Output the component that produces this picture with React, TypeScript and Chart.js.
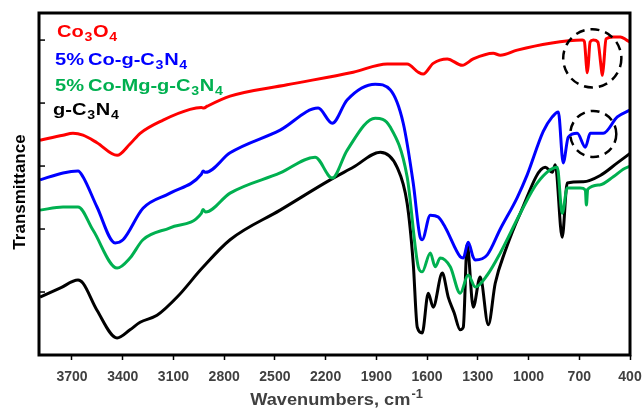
import React, { useEffect, useRef } from "react";
import { Chart, registerables } from "chart.js";

Chart.register(...registerables);

const FONT = '"Liberation Sans", Arial, Helvetica, sans-serif';

// Axis settings / tick labels
const xTickValues = [3700, 3400, 3100, 2800, 2500, 2200, 1900, 1600, 1300, 1000, 700, 400];
const yTickValues = [0, 1, 2, 3, 4, 5];
const xMin = 400;
const xMax = 3895;
const yMin = 0;
const yMax = 5.43;

const xTitle = "Wavenumbers, cm";
const xTitleSup = "-1";
const yTitle = "Transmittance";

// Series names ("_n" = subscript) and colours
const seriesNames = ["Co_3O_4", "5%\u2009Co-g-C_3N_4", "5%\u2009Co-Mg-g-C_3N_4", "g-C_3N_4"];
const seriesColors = ["#ff0000", "#0000ff", "#00b050", "#000000"];

// Co3O4
const wnRed = [3889, 3753, 3694, 3635, 3552, 3433, 3357, 3297, 3161, 3002, 2935, 2920, 2900, 2765, 2428, 2037, 1836, 1718, 1652, 1623, 1564, 1481, 1392, 1327, 1209, 1167, 1067, 871, 682, 670, 658, 653, 647, 636, 617, 590, 572, 564, 556, 542, 500, 457, 420, 400];
const tRed = [3.41, 3.49, 3.52, 3.49, 3.37, 3.17, 3.35, 3.52, 3.73, 3.90, 3.93, 3.92, 3.95, 4.11, 4.29, 4.49, 4.62, 4.62, 4.49, 4.46, 4.63, 4.70, 4.60, 4.70, 4.79, 4.76, 4.84, 4.95, 5.00, 4.98, 4.60, 4.48, 4.60, 4.97, 5.00, 4.97, 4.60, 4.44, 4.60, 5.02, 5.05, 5.05, 5.0, 4.97];

// 5% Co-g-C3N4
const wnBlue = [3889, 3753, 3664, 3635, 3552, 3445, 3398, 3280, 3120, 2935, 2925, 2910, 2765, 2469, 2244, 2161, 2073, 1907, 1818, 1741, 1682, 1641, 1629, 1581, 1534, 1493, 1404, 1386, 1357, 1327, 1315, 1244, 1167, 1067, 1008, 913, 860, 824, 795, 765, 712, 664, 635, 558, 475, 400];
const tBlue = [2.78, 2.89, 2.92, 2.83, 2.35, 1.78, 1.83, 2.33, 2.57, 2.87, 2.92, 2.90, 3.21, 3.57, 3.92, 3.68, 4.05, 4.30, 4.21, 3.68, 2.73, 1.87, 1.83, 2.22, 2.19, 2.03, 1.56, 1.54, 1.79, 1.55, 1.51, 1.59, 2.00, 2.50, 2.86, 3.55, 3.78, 3.86, 3.05, 3.46, 3.52, 3.30, 3.52, 3.52, 3.78, 3.89];

// 5% Co-Mg-g-C3N4
const wnGreen = [3889, 3753, 3664, 3575, 3433, 3357, 3280, 3120, 2935, 2925, 2910, 2765, 2469, 2262, 2161, 2073, 1907, 1818, 1718, 1652, 1629, 1581, 1552, 1522, 1463, 1404, 1357, 1315, 1244, 1167, 1049, 949, 830, 801, 771, 694, 664, 658, 650, 580, 499, 440, 400];
const tGreen = [2.30, 2.35, 2.35, 1.98, 1.38, 1.54, 1.83, 2.02, 2.25, 2.31, 2.27, 2.57, 2.89, 3.14, 2.81, 3.25, 3.76, 3.62, 2.83, 1.40, 1.32, 1.62, 1.40, 1.54, 1.40, 0.98, 1.27, 1.08, 1.27, 1.62, 2.25, 2.73, 2.98, 2.25, 2.65, 2.65, 2.62, 2.38, 2.63, 2.70, 2.83, 2.95, 3.00];

// g-C3N4
const wnBlack = [3889, 3771, 3664, 3635, 3552, 3433, 3357, 3297, 3197, 3078, 2930, 2765, 2469, 2173, 2037, 1877, 1777, 1718, 1682, 1658, 1629, 1593, 1564, 1510, 1475, 1440, 1404, 1386, 1363, 1327, 1286, 1238, 1197, 1138, 1049, 901, 860, 842, 801, 771, 676, 576, 475, 400];
const tBlack = [0.92, 1.06, 1.19, 1.14, 0.71, 0.27, 0.40, 0.52, 0.63, 0.92, 1.38, 1.83, 2.30, 2.78, 2.98, 3.22, 2.98, 2.41, 1.46, 0.44, 0.35, 0.98, 0.76, 1.30, 0.92, 0.67, 0.40, 0.44, 1.75, 0.76, 1.24, 0.48, 1.14, 1.65, 2.25, 2.98, 2.90, 3.02, 1.87, 2.73, 2.75, 2.85, 3.05, 3.20];

// Dashed highlight circles (centre wavenumber, centre transmittance, radius in cm-1)
const circleWn = [623, 617];
const circleT = [4.71, 3.51];
const circleRadiusWn = [172, 136];

const drawRich = (ctx: CanvasRenderingContext2D, label: string, x: number, y: number, color: string) => {
  const parts = label.split(/(_\d)/).filter(Boolean);
  ctx.save();
  ctx.translate(x, y);
  ctx.scale(1.18, 1);
  let cx = 0;
  ctx.fillStyle = color;
  ctx.textAlign = "left";
  ctx.textBaseline = "alphabetic";
  for (const p of parts) {
    const sub = p.startsWith("_");
    const t = sub ? p.slice(1) : p;
    ctx.font = `bold ${sub ? 12 : 17}px ${FONT}`;
    ctx.fillText(t, cx, sub ? 4 : 0);
    cx += ctx.measureText(t).width + 0.6;
  }
  ctx.restore();
};

const decorPlugin = {
  id: "decor",
  afterDatasetsDraw(chart: any) {
    const { ctx, chartArea: a, scales } = chart;
    const xs = scales.x;
    const ys = scales.y;
    ctx.save();
    // dashed circles
    ctx.strokeStyle = "#000";
    ctx.lineWidth = 2.5;
    ctx.setLineDash([9, 6]);
    circleWn.forEach((wn, i) => {
      const cx = xs.getPixelForValue(wn);
      const cy = ys.getPixelForValue(circleT[i]);
      const r = Math.abs(xs.getPixelForValue(wn + circleRadiusWn[i]) - cx);
      ctx.beginPath();
      ctx.arc(cx, cy, r, 0, Math.PI * 2);
      ctx.stroke();
    });
    ctx.setLineDash([]);
    // frame
    ctx.lineWidth = 3;
    ctx.strokeRect(a.left, a.top, a.right - a.left, a.bottom - a.top);
    // inner y ticks
    ctx.lineWidth = 1.5;
    yTickValues.forEach((v) => {
      const y = ys.getPixelForValue(v);
      ctx.beginPath();
      ctx.moveTo(a.left, y);
      ctx.lineTo(a.left + 6, y);
      ctx.stroke();
    });
    // legend
    const baseOffsets = [24, 52, 78, 102];
    const xOffsets = [18, 16, 16, 14];
    seriesNames.forEach((n, i) => drawRich(ctx, n, a.left + xOffsets[i], a.top + baseOffsets[i], seriesColors[i]));
    // y title
    ctx.save();
    ctx.translate(a.left - 14, (a.top + a.bottom) / 2 + 8);
    ctx.rotate(-Math.PI / 2);
    ctx.font = `bold 17px ${FONT}`;
    ctx.fillStyle = "#000";
    ctx.textAlign = "center";
    ctx.textBaseline = "alphabetic";
    ctx.fillText(yTitle, 0, 0);
    ctx.restore();
    // x title
    ctx.fillStyle = "#404040";
    ctx.textAlign = "left";
    ctx.textBaseline = "alphabetic";
    ctx.font = `bold 17px ${FONT}`;
    const sx = 1.07;
    const w1 = ctx.measureText(xTitle).width * sx;
    ctx.font = `bold 12px ${FONT}`;
    const w2 = ctx.measureText(xTitleSup).width * sx;
    const start = (a.left + a.right) / 2 + 1.5 - (w1 + w2) / 2;
    const by = a.bottom + 50;
    ctx.save();
    ctx.translate(start, by);
    ctx.scale(sx, 1);
    ctx.font = `bold 17px ${FONT}`;
    ctx.fillText(xTitle, 0, 0);
    ctx.font = `bold 12px ${FONT}`;
    ctx.fillText(xTitleSup, w1 / sx + 1, -7);
    ctx.restore();
    ctx.restore();
  },
};

export default function App() {
  const ref = useRef<HTMLCanvasElement>(null);
  useEffect(() => {
    const canvas = ref.current!;
    const mk = (wn: number[], t: number[]) => wn.map((w, i) => ({ x: w, y: t[i] }));
    const series = [
      mk(wnRed, tRed),
      mk(wnBlue, tBlue),
      mk(wnGreen, tGreen),
      mk(wnBlack, tBlack),
    ];
    const chart = new Chart(canvas, {
      type: "line",
      data: {
        datasets: series.map((d, i) => ({
          label: seriesNames[i],
          data: d,
          borderColor: seriesColors[i],
          backgroundColor: seriesColors[i],
          borderWidth: 3,
          pointRadius: 0,
          fill: false,
          cubicInterpolationMode: "monotone" as const,
        })),
      },
      options: {
        animation: false,
        responsive: false,
        maintainAspectRatio: false,
        devicePixelRatio: 1,
        layout: { padding: { top: 13, right: 13, left: 0, bottom: 0 } },
        plugins: { legend: { display: false }, tooltip: { enabled: false } },
        scales: {
          x: {
            type: "linear",
            min: xMin,
            max: xMax,
            reverse: true,
            afterBuildTicks: (s: any) => {
              s.ticks = xTickValues.map((v) => ({ value: v }));
            },
            afterFit: (s: any) => {
              s.height = 55;
              s.paddingLeft = 0;
              s.paddingRight = 0;
            },
            ticks: {
              color: "#404040",
              font: { family: FONT, size: 14, weight: "bold" },
              padding: 9,
              maxRotation: 0,
              autoSkip: false,
              callback: (v: any) => String(v),
            },
            grid: {
              display: true,
              drawOnChartArea: false,
              drawTicks: true,
              tickLength: 5,
              tickColor: "#000",
              tickWidth: 1.5,
              color: "#000",
            },
            border: { display: false },
          },
          y: {
            type: "linear",
            min: yMin,
            max: yMax,
            afterBuildTicks: (s: any) => {
              s.ticks = yTickValues.map((v) => ({ value: v }));
            },
            afterFit: (s: any) => {
              s.width = 39;
              s.paddingTop = 0;
              s.paddingBottom = 0;
            },
            ticks: { display: false },
            grid: { display: false },
            border: { display: false },
          },
        },
      },
      plugins: [decorPlugin],
    } as any);
    return () => chart.destroy();
  }, []);
  return (
    <div style={{ position: "fixed", left: 0, top: 0, width: 643, height: 410, background: "#fff" }}>
      <canvas ref={ref} width={643} height={410} style={{ display: "block", width: 643, height: 410 }} />
    </div>
  );
}
